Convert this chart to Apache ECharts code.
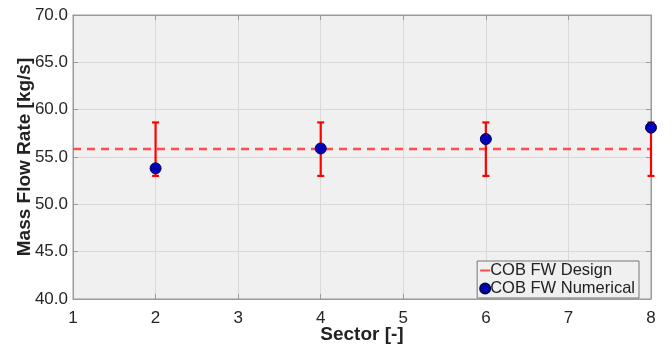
<!DOCTYPE html>
<html><head><meta charset="utf-8">
<script src="https://cdn.jsdelivr.net/npm/echarts@6/dist/echarts.min.js"></script>
<style>html,body{margin:0;padding:0;background:#fff}#c{width:672px;height:346px}</style>
</head><body><div id="c"></div>
<script>
var sectors = [2, 4, 6, 8];
var numerical = [53.8, 55.9, 56.9, 58.1];
var errLow = [53.0, 53.0, 53.0, 53.0];
var errHigh = [58.65, 58.65, 58.65, 58.65];
var designValue = 55.85;
var xRange = [1, 8];
var yRange = [40, 70];

var F = '"Liberation Sans", Arial, Helvetica, sans-serif';
var chart = echarts.init(document.getElementById('c'));
var errData = sectors.map(function (s, i) { return [s, errLow[i], errHigh[i]]; });
var ptData = sectors.map(function (s, i) { return [s, numerical[i]]; });
var lineData = [[xRange[0], designValue], [xRange[1], designValue]];

var AX = '#9a9a9a';
var axisCommon = {
  axisLine: { show: true, lineStyle: { color: AX, width: 1 } },
  axisTick: { show: true, inside: true, length: 5, lineStyle: { color: AX } }
};

chart.setOption({
  animation: false,
  backgroundColor: '#fff',
  grid: { left: 73, right: 21, top: 15, bottom: 47, containLabel: false, outerBoundsMode: 'none',
    show: true, backgroundColor: '#f0f0f0', borderColor: AX, borderWidth: 1 },
  legend: {
    right: 33, bottom: 48, orient: 'vertical', itemGap: 1, itemWidth: 10, itemHeight: 12,
    padding: [1, 4, 1, 2],
    backgroundColor: '#f0f0f0', borderColor: '#777', borderWidth: 1,
    textStyle: { fontFamily: F, fontSize: 16.5, color: '#222', padding: [0, 0, 0, -5] },
    data: [
      { name: 'COB FW Design', icon: 'path://M0,5 L10,5 L10,7 L0,7 Z' },
      { name: 'COB FW Numerical', icon: 'circle' }
    ]
  },
  xAxis: [{
    type: 'value', min: xRange[0], max: xRange[1], interval: 1,
    name: 'Sector [-]', nameLocation: 'middle', nameGap: 26, nameMoveOverlap: false,
    nameTextStyle: { fontFamily: F, fontSize: 19, fontWeight: 'bold', color: '#222' },
    axisLabel: { fontFamily: F, fontSize: 17, color: '#262626', margin: 11 },
    splitLine: { show: true, lineStyle: { color: '#d9d9d9' } },
    axisLine: axisCommon.axisLine, axisTick: axisCommon.axisTick
  }, {
    type: 'value', min: xRange[0], max: xRange[1], interval: 1, position: 'top',
    axisLabel: { show: false }, splitLine: { show: false },
    axisLine: axisCommon.axisLine, axisTick: axisCommon.axisTick
  }],
  yAxis: [{
    type: 'value', min: yRange[0], max: yRange[1], interval: 5,
    name: 'Mass Flow Rate [kg/s]', nameLocation: 'middle', nameGap: 39, nameMoveOverlap: false,
    nameTextStyle: { fontFamily: F, fontSize: 19, fontWeight: 'bold', color: '#222' },
    axisLabel: { fontFamily: F, fontSize: 17, color: '#262626', margin: 5, formatter: function (v) { return v.toFixed(1); } },
    splitLine: { show: true, lineStyle: { color: '#d9d9d9' } },
    axisLine: axisCommon.axisLine, axisTick: axisCommon.axisTick
  }, {
    type: 'value', min: yRange[0], max: yRange[1], interval: 5, position: 'right',
    axisLabel: { show: false }, splitLine: { show: false },
    axisLine: axisCommon.axisLine, axisTick: axisCommon.axisTick
  }],
  series: [{
    name: 'COB FW Design', type: 'line', data: lineData, symbol: 'none', z: 3,
    itemStyle: { color: '#ff4d4d' },
    lineStyle: { color: '#ff4d4d', width: 2.5, type: [8, 6] }
  }, {
    name: 'errbar', type: 'custom', data: errData, z: 4,
    renderItem: function (params, api) {
      var x = api.value(0);
      var lo = api.coord([x, api.value(1)]);
      var hi = api.coord([x, api.value(2)]);
      var w = 3.5;
      var st = { stroke: '#ff0000', lineWidth: 2.2 };
      return { type: 'group', children: [
        { type: 'line', shape: { x1: lo[0], y1: lo[1], x2: hi[0], y2: hi[1] }, style: st },
        { type: 'line', shape: { x1: lo[0] - w, y1: lo[1], x2: lo[0] + w, y2: lo[1] }, style: st },
        { type: 'line', shape: { x1: hi[0] - w, y1: hi[1], x2: hi[0] + w, y2: hi[1] }, style: st }
      ]};
    }
  }, {
    name: 'COB FW Numerical', type: 'scatter', data: ptData, symbolSize: 11, z: 5,
    itemStyle: { color: '#0000b4', borderColor: '#00005a', borderWidth: 1, opacity: 1 }
  }]
});
</script></body></html>
